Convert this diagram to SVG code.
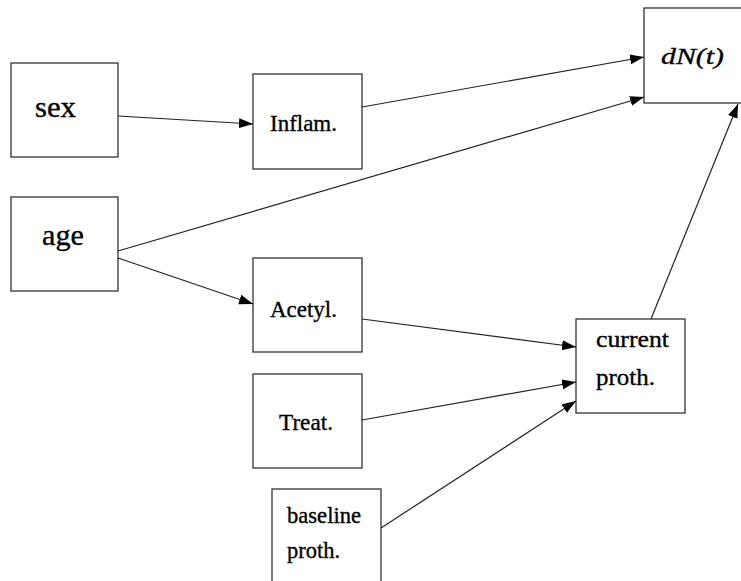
<svg xmlns="http://www.w3.org/2000/svg" width="741" height="581" viewBox="0 0 741 581">
<style>
.box{fill:#fff;stroke:#333;stroke-width:1.3}
text{font-family:'Liberation Serif','Times New Roman',serif;font-size:24px;fill:#000;stroke:#000;stroke-width:0.35}
.big{font-size:30px}
.edge{fill:none;stroke:#222;stroke-width:1.2}
</style>
<defs>
<marker id="ah" markerUnits="userSpaceOnUse" markerWidth="16" markerHeight="12" refX="14" refY="5" orient="auto">
<path d="M0,0 L14,5 L0,10 z" fill="#000"/>
</marker>
</defs>
<rect width="741" height="581" fill="#fff"/>
<g id="sex"><rect class="box" x="11" y="63" width="107" height="94"/><text class="big" x="35" y="117" textLength="41" lengthAdjust="spacingAndGlyphs">sex</text></g>
<g id="age"><rect class="box" x="11" y="197" width="107" height="94"/><text class="big" x="42" y="245" textLength="42" lengthAdjust="spacingAndGlyphs">age</text></g>
<g id="inflam"><rect class="box" x="253" y="74" width="109" height="95"/><text x="270" y="131" textLength="67" lengthAdjust="spacingAndGlyphs">Inflam.</text></g>
<g id="acetyl"><rect class="box" x="253" y="258" width="109" height="94"/><text x="270" y="317" textLength="67" lengthAdjust="spacingAndGlyphs">Acetyl.</text></g>
<g id="treat"><rect class="box" x="253" y="374" width="109" height="94"/><text x="279" y="430" textLength="54" lengthAdjust="spacingAndGlyphs">Treat.</text></g>
<g id="baseline"><rect class="box" x="272" y="489" width="109" height="100"/><text x="287" y="523" textLength="74" lengthAdjust="spacingAndGlyphs">baseline</text><text x="287" y="558" textLength="53" lengthAdjust="spacingAndGlyphs">proth.</text></g>
<g id="current"><rect class="box" x="576" y="319" width="109" height="94"/><text x="596" y="347" textLength="73" lengthAdjust="spacingAndGlyphs">current</text><text x="596" y="385" textLength="59" lengthAdjust="spacingAndGlyphs">proth.</text></g>
<g id="dN"><rect class="box" x="644" y="8" width="110" height="95"/><text x="661" y="64" font-style="italic" textLength="63" lengthAdjust="spacingAndGlyphs">dN(t)</text></g>
<g id="connectors">
<line class="edge" x1="118" y1="116" x2="253" y2="124" marker-end="url(#ah)"/>
<line class="edge" x1="362" y1="107" x2="644" y2="57" marker-end="url(#ah)"/>
<line class="edge" x1="118" y1="251" x2="644" y2="97" marker-end="url(#ah)"/>
<line class="edge" x1="118" y1="258" x2="253" y2="304" marker-end="url(#ah)"/>
<line class="edge" x1="362" y1="319" x2="576" y2="347" marker-end="url(#ah)"/>
<line class="edge" x1="362" y1="420" x2="576" y2="382" marker-end="url(#ah)"/>
<line class="edge" x1="381" y1="528" x2="576" y2="401" marker-end="url(#ah)"/>
<line class="edge" x1="651" y1="319" x2="738" y2="104" marker-end="url(#ah)"/>
</g>
</svg>
